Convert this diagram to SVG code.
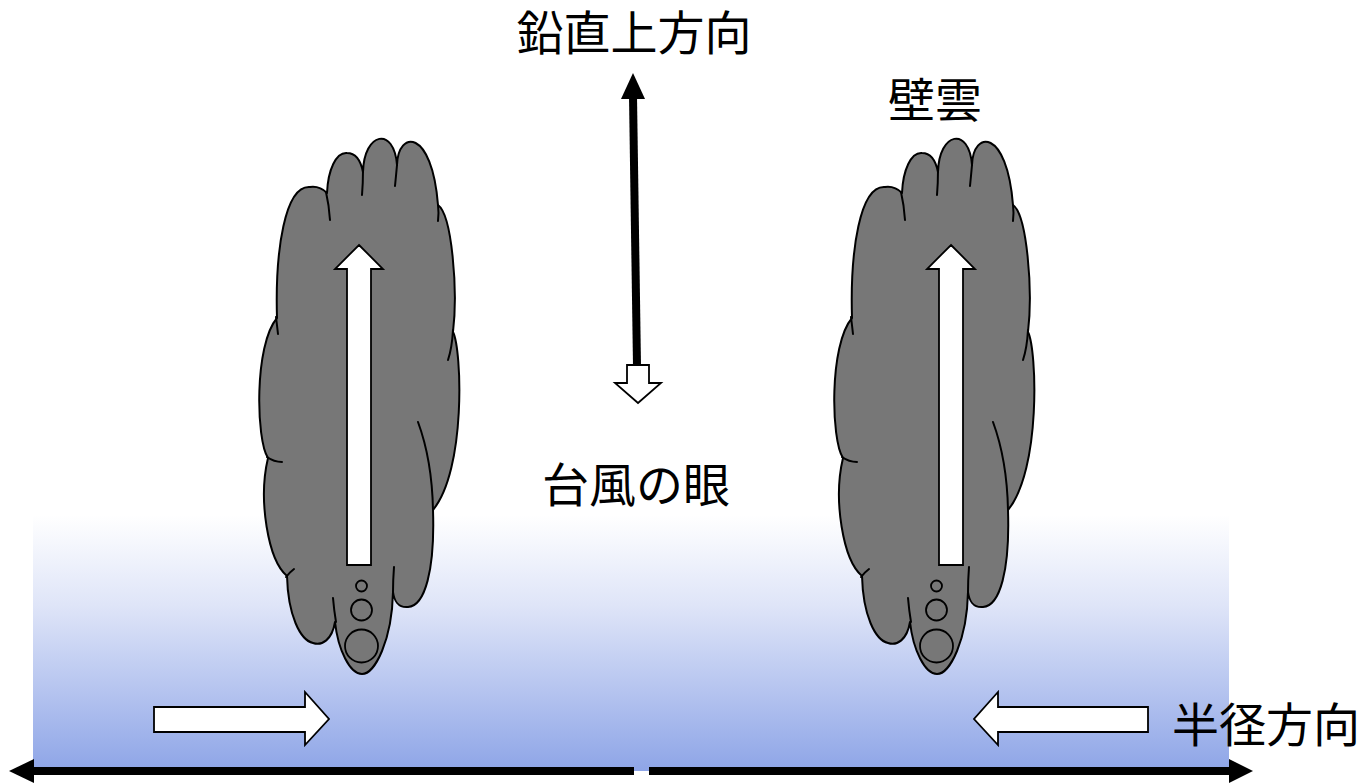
<svg xmlns="http://www.w3.org/2000/svg" xmlns:xlink="http://www.w3.org/1999/xlink" width="1360" height="783" viewBox="0 0 1360 783">
  <style>
    .label { font-family: "Noto Sans CJK JP", "Noto Sans CJK SC", sans-serif; font-size: 47px; fill: #000; text-anchor: middle; }
    .cloud { fill: #777777; stroke: #000; stroke-width: 2; stroke-linejoin: round; }
    .seam { fill: none; stroke: #000; stroke-width: 2; stroke-linecap: round; }
    .bubble { fill: none; stroke: #000; stroke-width: 1.8; }
    .hollow { fill: #fff; stroke: #000; stroke-width: 1.8; stroke-linejoin: miter; }
    .solid { fill: #000; stroke: none; }
    .shaft { stroke: #000; stroke-width: 8; fill: none; }
  </style>
  <defs>
    <linearGradient id="inflow" x1="0" y1="515" x2="0" y2="771" gradientUnits="userSpaceOnUse">
      <stop offset="0" stop-color="#ffffff"/>
      <stop offset="0.35" stop-color="#dfe5f8"/>
      <stop offset="1" stop-color="#8ea5e7"/>
    </linearGradient>
    <!-- elongated cumulonimbus outline with its lobe seams -->
    <g id="tower">
      <path class="cloud" d="M 363 172
        C 364 132, 394 126, 397 165
        C 398 130, 432 128, 438 205
        C 452 215, 458 290, 453 332
        C 462 350, 466 470, 433 510
        C 435 570, 425 606, 408 607
        C 398 608, 394 600, 393 592
        C 392 640, 375 674, 362 674
        C 350 674, 338 650, 335 622
        C 332 640, 322 646, 313 643
        C 300 640, 288 615, 287 576
        C 268 560, 258 500, 268 458
        C 256 440, 254 345, 277 318
        C 275 250, 285 185, 310 187
        C 317 186, 323 189, 327 193
        C 328 170, 336 152, 347 153
        C 356 153, 361 162, 363 172 Z"/>
      <path class="seam" d="M 397 165 Q 396 176 395 186"/>
      <path class="seam" d="M 438 205 Q 439 213 438 221"/>
      <path class="seam" d="M 453 330 Q 452 348 448 360"/>
      <path class="seam" d="M 418 422 Q 432 460 433 510"/>
      <path class="seam" d="M 394 567 Q 393 580 393 592"/>
      <path class="seam" d="M 333 598 Q 334 610 336 622"/>
      <path class="seam" d="M 286 577 Q 290 572 294 569"/>
      <path class="seam" d="M 267 457 Q 274 462 282 462"/>
      <path class="seam" d="M 276 317 Q 277 325 278 334"/>
      <path class="seam" d="M 326 192 Q 329 205 330 220"/>
      <path class="seam" d="M 363 170 Q 363 183 362 195"/>
      <circle class="bubble" cx="361.5" cy="586" r="5.5"/>
      <circle class="bubble" cx="361.5" cy="610" r="10.5"/>
      <circle class="bubble" cx="361.5" cy="646" r="16.5"/>
    </g>
  </defs>

  <!-- boundary layer inflow shading -->
  <rect id="inflow-layer" x="33" y="515" width="1196" height="256" fill="url(#inflow)"/>

  <g id="eyewall-left">
    <use xlink:href="#tower"/>
  </g>
  <g id="eyewall-right">
    <use xlink:href="#tower" transform="translate(575,0)"/>
  </g>

  <g id="connectors">
    <!-- updrafts inside the eyewall clouds -->
    <path class="hollow" d="M 359 245 L 383 269 L 371 269 L 371 565 L 347 565 L 347 269 L 335 269 Z"/>
    <path class="hollow" d="M 951 245 L 975 269 L 963 269 L 963 565 L 939 565 L 939 269 L 927 269 Z"/>
    <!-- vertical axis -->
    <path class="shaft" d="M 633 96 L 637 366" stroke-width="7.5"/>
    <path class="solid" d="M 633 73 L 645 99 L 621 99 Z"/>
    <!-- subsidence in the eye -->
    <path class="hollow" d="M 627 365 L 649 365 L 649 383 L 661 383 L 638 403 L 615 383 L 627 383 Z"/>
    <!-- low-level inflow -->
    <path class="hollow" d="M 154 707 L 305 707 L 305 692 L 329 719 L 305 745 L 305 732 L 154 732 Z"/>
    <path class="hollow" d="M 1148 707 L 998 707 L 998 692 L 974 719 L 998 745 L 998 732 L 1148 732 Z"/>
    <!-- radial axis -->
    <path class="shaft" d="M 634 771 L 30 771"/>
    <path class="solid" d="M 9 771 L 34 759 L 34 783 Z"/>
    <path class="shaft" d="M 649 771 L 1232 771"/>
    <path class="solid" d="M 1253 771 L 1229 759 L 1229 783 Z"/>
  </g>

  <g id="labels">
    <text class="label" x="634" y="50">鉛直上方向</text>
    <text class="label" x="935" y="117">壁雲</text>
    <text class="label" x="636" y="502">台風の眼</text>
    <text class="label" x="1266" y="742">半径方向</text>
  </g>
</svg>
